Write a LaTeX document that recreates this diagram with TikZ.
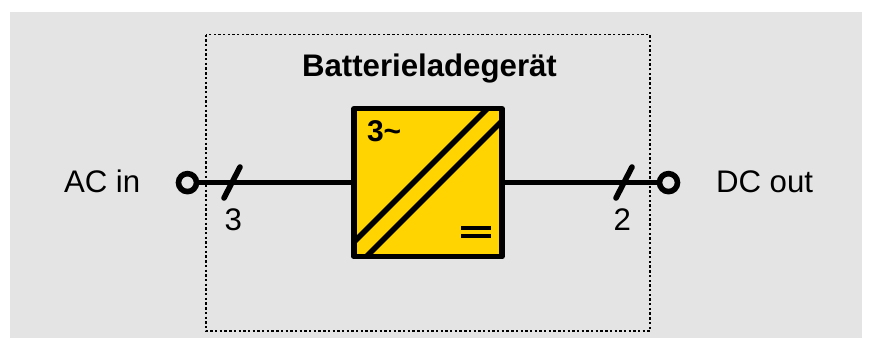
\documentclass[tikz,border=0pt]{standalone}
\usepackage{fontspec}
\setmainfont{Liberation Sans}
\definecolor{panelgrey}{HTML}{E4E4E4}
\definecolor{boxyellow}{HTML}{FFD400}
\tikzset{
  x=1pt,y=-1pt,
  lbl/.style={inner sep=0pt,outer sep=0pt,font=\fontsize{31.2}{31.2}\selectfont,anchor=base west},
  wire/.style={line width=5.5pt},
  slash/.style={line width=5.6pt,line cap=round},
  terminal/.style={circle,draw,line width=5.6pt,fill=panelgrey,minimum size=18pt,inner sep=0pt,outer sep=0pt},
  conv/.style={draw,line width=5.6pt,fill=boxyellow,line join=round,minimum width=148pt,minimum height=148pt,inner sep=0pt,outer sep=0pt},
  frame/.style={draw,line width=1.7pt,dash pattern=on 2.4pt off 2.3pt}
}
\begin{document}
\begin{tikzpicture}
\useasboundingbox (0,0) rectangle (869,338);
\fill[white] (0,0) rectangle (869,338);
\fill[panelgrey] (10,12) rectangle (862,338);
\draw[frame] (206,34.5) rectangle (650,331);
\node[conv] (conv) at (428,182.6) {};
\node[terminal] (acin) at (187.5,182.6) {};
\node[terminal] (dcout) at (668.5,182.6) {};
\draw[wire] (acin) -- (conv);
\draw[wire] (conv) -- (dcout);
\draw[slash] (224,198) -- (240,167);
\draw[slash] (616,198) -- (632,167);
\begin{scope}
\clip (351,106) rectangle (505,259);
\draw[line width=5.6pt] (353,243) -- (490,106);
\draw[line width=5.6pt] (366,257) -- (503,120);
\end{scope}
\draw[line width=3.8pt] (461,228) -- (491,228);
\draw[line width=3.8pt] (461,236) -- (491,236);
\node[lbl] (aclabel) at (64,192) {AC in};
\node[lbl] (dclabel) at (716,192) {DC out};
\node[lbl] (three) at (224.5,230) {3};
\node[lbl] (two) at (613.5,230) {2};
\node[lbl,font=\bfseries\fontsize{31.2}{31.2}\selectfont] (title) at (302,76) {Batterieladegerät};
\node[lbl,font=\bfseries\fontsize{30}{30}\selectfont] (phase) at (367,141) {3\textasciitilde};
\end{tikzpicture}
\end{document}
